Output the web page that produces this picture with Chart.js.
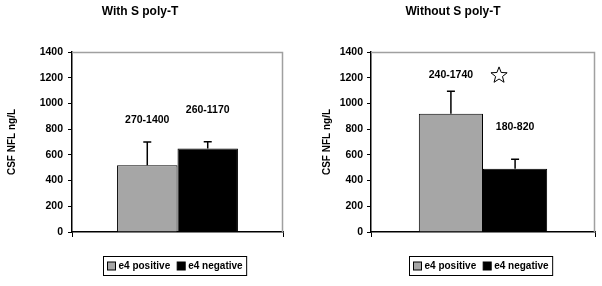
<!DOCTYPE html>
<html><head><meta charset="utf-8">
<script src="https://cdn.jsdelivr.net/npm/chart.js@4"></script>
<style>html,body{margin:0;padding:0;background:#fff;width:602px;height:286px;overflow:hidden}
canvas{position:absolute;top:0}</style></head>
<body>
<canvas id="c1" width="301" height="286" style="left:0"></canvas>
<canvas id="c2" width="301" height="286" style="left:301px"></canvas>
<script>
const panelTitles = ['With S poly-T', 'Without S poly-T'];
const seriesNames = ['e4 positive', 'e4 negative'];
const e4Positive = [520, 920];
const e4Negative = [650, 492];
const e4PositiveUpper = [700, 1095];
const e4NegativeUpper = [702, 565];
const e4PositiveRange = ['270-1400', '240-1740'];
const e4NegativeRange = ['260-1170', '180-820'];
const significant = [false, true];
const yTickMin = 0, yTickMax = 1400, yTickStep = 200;
const yAxisTitle = 'CSF NFL ng/L';

const FONT = '"Liberation Sans", Arial, sans-serif';

const annot = {
  id: 'annot',
  afterDatasetsDraw(chart, args, o) {
    const ctx = chart.ctx, ys = chart.scales.y, ca = chart.chartArea;
    ctx.save();
    ctx.strokeStyle = '#a0a0a0'; ctx.lineWidth = 1.5;
    ctx.beginPath();
    ctx.moveTo(ca.left, ca.top + 0.5); ctx.lineTo(ca.right - 0.5, ca.top + 0.5); ctx.lineTo(ca.right - 0.5, ca.bottom);
    ctx.stroke();
    const bars = [];
    chart.data.datasets.forEach((ds, i) => {
      const bar = chart.getDatasetMeta(i).data[0];
      bars.push(bar);
      const x = bar.x, top = ys.getPixelForValue(ds.data[0]), up = ys.getPixelForValue(ds.upper);
      ctx.strokeStyle = '#000'; ctx.lineWidth = 1.5;
      ctx.beginPath();
      ctx.moveTo(x, top); ctx.lineTo(x, up);
      ctx.moveTo(x - 4, up); ctx.lineTo(x + 4, up);
      ctx.stroke();
      ctx.fillStyle = '#000'; ctx.font = 'bold 10.5px ' + FONT;
      ctx.textAlign = 'center'; ctx.textBaseline = 'middle';
      ctx.fillText(ds.range, x, ys.getPixelForValue(o.labelAt[i]));
    });
    if (o.star) {
      const cx = bars[0].x + 0.75 * (bars[1].x - bars[0].x), cy = ys.getPixelForValue(1218);
      const R = 8.5, r = 3.6;
      ctx.beginPath();
      for (let k = 0; k < 10; k++) {
        const a = -Math.PI / 2 + k * Math.PI / 5, rr = k % 2 ? r : R;
        const px = cx + rr * Math.cos(a), py = cy + rr * Math.sin(a);
        k ? ctx.lineTo(px, py) : ctx.moveTo(px, py);
      }
      ctx.closePath(); ctx.lineWidth = 1; ctx.strokeStyle = '#000'; ctx.stroke();
    }
    ctx.font = 'bold 12px ' + FONT; ctx.textAlign = 'center'; ctx.textBaseline = 'middle';
    ctx.fillText(o.title, o.titleX, 12);
    ctx.font = 'bold 10px ' + FONT;
    const sw = 8, gap = 3, between = 7, pad = 4;
    const w0 = ctx.measureText(seriesNames[0]).width, w1 = ctx.measureText(seriesNames[1]).width;
    const total = pad + sw + gap + w0 + between + sw + gap + w1 + pad;
    const lx = Math.round(o.legendX - total / 2) + 0.5, ly = 256.5, lh = 19;
    ctx.lineWidth = 1; ctx.strokeStyle = '#000';
    ctx.strokeRect(lx, ly, total, lh);
    let x = lx + pad;
    const sy = ly + (lh - sw) / 2;
    chart.data.datasets.forEach((ds, i) => {
      ctx.fillStyle = ds.backgroundColor; ctx.fillRect(x, sy, sw, sw);
      ctx.strokeRect(x, sy, sw, sw);
      x += sw + gap;
      ctx.fillStyle = '#000'; ctx.textAlign = 'left';
      ctx.fillText(ds.label, x, ly + lh / 2 + 0.5);
      x += (i ? w1 : w0) + between;
    });
    ctx.restore();
  }
};

function makeChart(id, p, cfg) {
  return new Chart(document.getElementById(id), {
    type: 'bar',
    data: {
      labels: [''],
      datasets: [
        { label: seriesNames[0], data: [e4Positive[p]], upper: e4PositiveUpper[p], range: e4PositiveRange[p],
          backgroundColor: '#a6a6a6', borderColor: '#000', borderWidth: 1, borderSkipped: 'bottom',
          categoryPercentage: 0.573, barPercentage: 1 },
        { label: seriesNames[1], data: [e4Negative[p]], upper: e4NegativeUpper[p], range: e4NegativeRange[p],
          backgroundColor: '#000', borderColor: '#000', borderWidth: 1, borderSkipped: 'bottom',
          categoryPercentage: 0.573, barPercentage: 1 }
      ]
    },
    options: {
      responsive: false, animation: false, devicePixelRatio: 1,
      layout: { padding: { top: 52, right: cfg.right, bottom: 0, left: 0 } },
      plugins: {
        legend: { display: false }, tooltip: { enabled: false },
        annot: { labelAt: cfg.labelAt, star: significant[p], title: panelTitles[p], titleX: cfg.titleX, legendX: cfg.legendX }
      },
      scales: {
        x: {
          grid: { offset: true, drawOnChartArea: false, drawTicks: true, tickLength: 5, color: '#000' },
          border: { color: '#000', width: 1.5 },
          ticks: { display: false },
          afterFit(s) { s.height = 54; }
        },
        y: {
          min: yTickMin, max: yTickMax,
          ticks: { stepSize: yTickStep, color: '#000', padding: cfg.tickPad, callback: v => String(v),
                   font: { family: FONT, size: 10.5, weight: 'bold' } },
          grid: { drawOnChartArea: false, drawTicks: true, tickLength: 4, color: '#000' },
          border: { color: '#000', width: 1.5 },
          title: { display: true, text: yAxisTitle, color: '#000', padding: { top: cfg.titlePad, bottom: 0 },
                   font: { family: FONT, size: 10, weight: 'bold' } },
          afterFit(s) { s.width = cfg.yw; }
        }
      }
    },
    plugins: [annot]
  });
}

makeChart('c1', 0, { right: 18, yw: 72, tickPad: 5, titlePad: 6, labelAt: [871, 949], titleX: 140, legendX: 175 });
makeChart('c2', 1, { right: 7, yw: 70, tickPad: 4, titlePad: 20, labelAt: [1221, 817], titleX: 152, legendX: 180 });
</script>
</body></html>
